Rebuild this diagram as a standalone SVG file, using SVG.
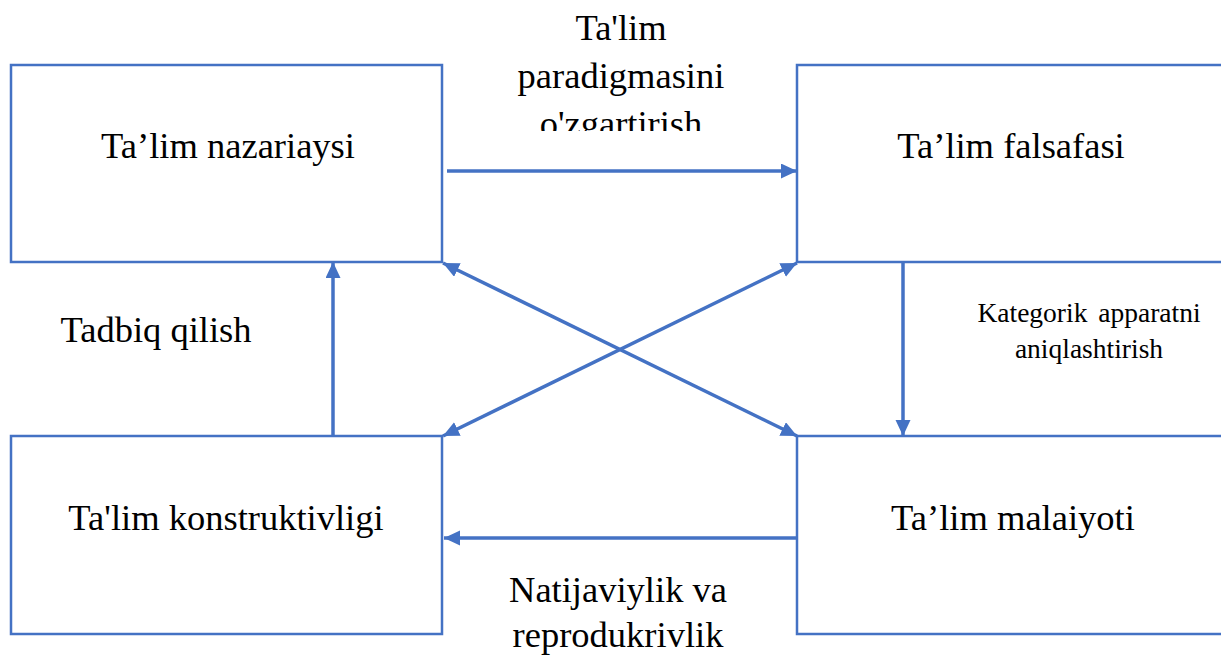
<svg xmlns="http://www.w3.org/2000/svg" width="1221" height="655" viewBox="0 0 1221 655">
<style>
.box{fill:#ffffff;stroke:#4472C4;stroke-width:2.5}
.con{fill:none;stroke:#4472C4;stroke-width:3.5}
.t{font-family:"Liberation Serif","Times New Roman",serif;font-size:36.5px;fill:#000000;text-anchor:middle}
.s{font-family:"Liberation Serif","Times New Roman",serif;font-size:27.5px;fill:#000000;text-anchor:middle}
</style>
<defs>
<marker id="ah" markerUnits="userSpaceOnUse" markerWidth="18" markerHeight="16" refX="16" refY="7.5" orient="auto-start-reverse">
<path d="M0,0 L16,7.5 L0,15 z" fill="#4472C4"/>
</marker>
<clipPath id="clipTop"><rect x="400" y="0" width="440" height="131"/></clipPath>
</defs>
<rect width="1221" height="655" fill="#ffffff"/>
<g id="node-nazariya">
<rect class="box" x="11" y="65" width="431" height="197"/>
<text class="t" x="228" y="158">Ta’lim nazariaysi</text>
</g>
<g id="node-falsafa">
<rect class="box" x="797" y="65" width="430" height="197"/>
<text class="t" x="1011" y="158">Ta’lim falsafasi</text>
</g>
<g id="node-konstruktiv">
<rect class="box" x="11" y="436" width="431" height="198"/>
<text class="t" x="226" y="530">Ta'lim konstruktivligi</text>
</g>
<g id="node-malaiyot">
<rect class="box" x="797" y="436" width="430" height="198"/>
<text class="t" x="1013" y="530">Ta’lim malaiyoti</text>
</g>
<g id="connectors">
<line class="con" x1="447" y1="171" x2="797" y2="171" marker-end="url(#ah)"/>
<line class="con" x1="903" y1="262" x2="903" y2="436" marker-end="url(#ah)"/>
<line class="con" x1="797" y1="538" x2="444" y2="538" marker-end="url(#ah)"/>
<line class="con" x1="333" y1="436" x2="333" y2="262" marker-end="url(#ah)"/>
<line class="con" x1="443" y1="263" x2="797" y2="436" marker-start="url(#ah)" marker-end="url(#ah)"/>
<line class="con" x1="797" y1="263" x2="443" y2="436" marker-start="url(#ah)" marker-end="url(#ah)"/>
</g>
<g id="labels">
<g clip-path="url(#clipTop)">
<text class="t" x="621" y="40">Ta'lim</text>
<text class="t" x="621" y="88">paradigmasini</text>
<text class="t" x="621" y="136">o'zgartirish</text>
</g>
<text class="t" x="156" y="342">Tadbiq qilish</text>
<text class="s" x="1089" y="322" word-spacing="4">Kategorik apparatni</text>
<text class="s" x="1089" y="358">aniqlashtirish</text>
<text class="t" x="618" y="602">Natijaviylik va</text>
<text class="t" x="618" y="647">reprodukrivlik</text>
</g>
</svg>
